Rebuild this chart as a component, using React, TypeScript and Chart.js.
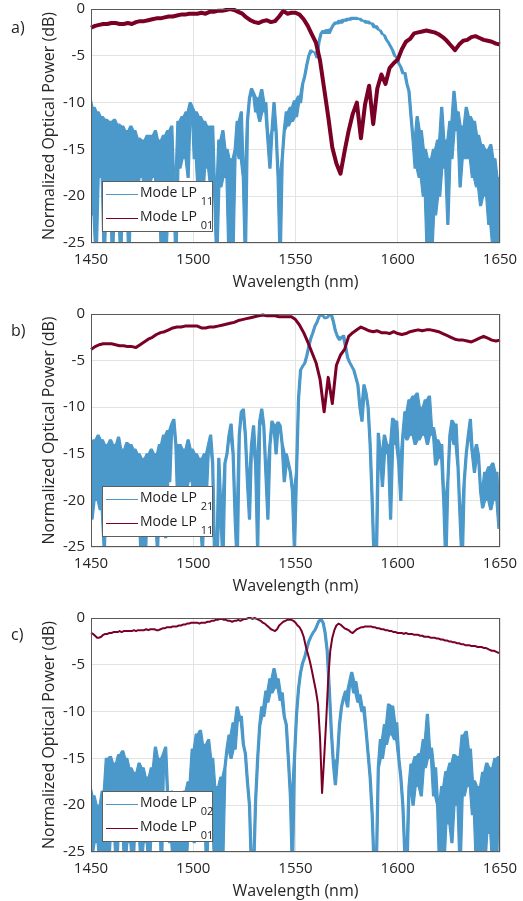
import React, { useEffect, useRef } from "react";
import { Chart, registerables } from "chart.js";

Chart.register(...registerables);

// ---------- data ----------
const WL_START = 1450;
const WL_MIN = 1450;
const WL_MAX = 1650;
const X_TICKS = [1450, 1500, 1550, 1600, 1650];
const Y_TICKS = [-25, -20, -15, -10, -5, 0];
const X_TITLE = "Wavelength (nm)";
const Y_TITLE = "Normalized Optical Power (dB)";
const PANEL_LABELS = ["a)", "b)", "c)"];
const BLUE_MODES = ["11", "21", "02"];
const RED_MODES = ["01", "11", "01"];

// Panel a) — Mode LP11 (1 nm steps from 1450 nm)
const blueA = [
  -9.5, -22, -10.5, -27, -11, -18, -11.5, -27, -11.8, -19,
  -12, -27, -11.8, -20, -12.3, -27, -12.5, -19, -13, -27,
  -12.5, -19, -13, -20, -13.8, -18, -14, -21, -13.5, -19,
  -13.5, -18, -13, -20, -14, -27, -13.5, -27, -13, -22,
  -12.5, -19, -27, -12, -17, -11.5, -16, -11, -18, -10,
  -10.5, -16, -11, -20, -11.5, -21, -12, -17, -12.5, -19,
  -12.5, -20, -27, -14, -19, -13, -18, -15, -27, -16,
  -25.5, -15, -12, -16, -11, -18, -27, -12, -9.5, -8.5,
  -9, -11, -9.5, -12, -8.6, -11, -10, -14, -17, -13,
  -10, -13, -18, -27, -16, -13, -11, -12.5, -10.5, -12,
  -9.8, -11.5, -9.3, -10, -8, -7.2, -6, -5, -4.4, -4.6,
  -4.6, -5.2, -3.5, -2.6, -2.3, -2.6, -2.2, -2.6, -2.1, -1.7,
  -1.4, -1.6, -1.2, -1.5, -1.1, -1.3, -1.0, -1.2, -0.9, -1.1,
  -0.9, -1.1, -1.0, -1.3, -1.2, -1.5, -1.3, -1.6, -1.5, -2.0,
  -1.8, -2.2, -2.3, -2.7, -2.8, -3.3, -3.6, -4.0, -4.4, -5.0,
  -5.2, -5.8, -6.2, -6.9, -6.8, -8.0, -8.8, -11.5, -14, -17,
  -11.5, -18, -13, -20, -15, -27, -16, -27, -15, -22,
  -14, -20, -10.5, -17, -14, -23, -12, -16, -8.8, -13,
  -11, -19, -12.5, -16, -10.5, -16, -11.5, -18, -12, -19,
  -13.5, -21, -14.5, -20, -15, -23, -14.5, -25.5, -16, -27,
  -18,
];
// Panel a) — Mode LP01 (2 nm steps from 1450 nm)
const redA = [
  -2.0, -1.8, -1.7, -1.6, -1.6, -1.5, -1.5, -1.6, -1.6, -1.5,
  -1.6, -1.4, -1.3, -1.3, -1.2, -1.1, -1.0, -1.0, -0.9, -0.8,
  -0.8, -0.7, -0.6, -0.6, -0.5, -0.5, -0.5, -0.4, -0.5, -0.3,
  -0.3, -0.2, -0.2, -0.1, 0.0, -0.1, -0.3, -0.5, -0.9, -1.2,
  -1.4, -1.5, -1.3, -1.2, -1.4, -1.3, -0.8, -0.2, -0.5, -0.4,
  -0.4, -0.6, -1.1, -1.8, -2.7, -3.6, -5.5, -8.5, -11.5, -14.8,
  -16.5, -17.6, -15.2, -13.0, -11.2, -10.0, -13.8, -10.2, -8.2, -12.3,
  -8.5, -7.0, -8.0, -6.3, -5.8, -5.4, -4.3, -3.5, -3.2, -2.6,
  -2.5, -2.4, -2.3, -2.4, -2.5, -2.7, -3.0, -3.4, -3.9, -4.4,
  -3.8, -3.4, -3.3, -3.0, -2.9, -3.1, -3.3, -3.4, -3.5, -3.7,
  -3.8,
];

// Panel b) — Mode LP21 (1 nm steps)
const blueB = [
  -14, -22, -13.5, -20, -13, -21, -13.5, -25.5, -14, -19,
  -13.5, -21, -14, -19, -13.2, -20, -14.5, -22, -13.8, -19,
  -14, -21, -14.5, -19, -15, -27, -15.5, -27, -15, -20,
  -14.5, -21, -15, -25.5, -14, -20, -13, -24, -12.5, -18,
  -11.8, -11.3, -14, -21, -14, -23, -14.5, -19, -13.5, -18,
  -14.5, -20, -15, -22, -15.5, -25.5, -15, -19, -14, -13,
  -16, -27, -27, -15.5, -21, -27, -16, -15, -13, -11.8,
  -15, -22, -27, -13, -10.5, -10.2, -13, -18, -22, -14,
  -12, -16, -25.5, -11.5, -10.2, -12, -17, -22, -14, -11.5,
  -12, -15, -11.6, -12, -14, -18, -15, -16, -17, -19,
  -25.5, -17, -9, -6, -5.6, -5.3, -4.5, -3.5, -2.6, -2,
  -1.3, -0.9, -0.3, 0, -0.2, -0.5, -0.4, -0.1, 0, -0.8,
  -1.8, -2.4, -2.8, -2.5, -2.3, -3.5, -4.7, -5.2, -5.6, -6,
  -6.8, -7.6, -10, -11.5, -7.6, -8.5, -10, -14, -20, -27,
  -27, -12.8, -15, -18.5, -13, -15, -14, -22, -11.2, -14,
  -11.5, -16, -20, -13, -10.5, -13.5, -9.2, -13, -8.8, -14,
  -8.5, -13.5, -10, -13, -9.2, -14, -8.8, -13, -12.2, -16.2,
  -13.5, -15.5, -14, -20, -27, -18, -13, -11.4, -14, -11.8,
  -16.5, -22, -27, -18, -15, -13, -11.3, -15, -17, -14,
  -15.2, -19, -20.8, -17, -20, -16.4, -21, -16, -20, -17,
  -23,
];
// Panel b) — Mode LP11 (2 nm steps)
const redB = [
  -3.8, -3.5, -3.3, -3.2, -3.2, -3.2, -3.3, -3.4, -3.4, -3.5,
  -3.5, -3.6, -3.3, -3.0, -2.7, -2.5, -2.2, -2.0, -1.9, -1.7,
  -1.5, -1.4, -1.4, -1.3, -1.3, -1.3, -1.3, -1.5, -1.5, -1.4,
  -1.4, -1.3, -1.2, -1.1, -1.0, -0.9, -0.7, -0.6, -0.5, -0.4,
  -0.3, -0.2, -0.1, -0.2, -0.2, -0.2, -0.3, -0.3, -0.3, -0.3,
  -0.6, -1.2, -2.0, -3.0, -4.1, -5.2, -7.0, -10.5, -6.8, -9.6,
  -5.5, -4.4, -3.8, -2.4, -2.0, -1.7, -1.4, -1.6, -1.8, -1.9,
  -1.8, -2.0, -2.0, -2.1, -1.9, -2.1, -2.2, -2.1, -1.9, -1.8,
  -1.7, -1.8, -1.7, -1.7, -1.8, -1.9, -2.1, -2.3, -2.5, -2.7,
  -2.8, -2.8, -2.9, -3.0, -2.8, -2.6, -2.4, -2.6, -2.8, -2.9,
  -2.8,
];

// Panel c) — Mode LP02 (1 nm steps)
const blueC = [
  -18, -25.5, -19, -24, -20, -27, -18.5, -25.5, -15, -27,
  -14.8, -23, -15.5, -27, -14.6, -22, -14.2, -27, -15, -24,
  -16, -27, -16.5, -22, -15.5, -27, -16, -24, -17, -27,
  -16, -22, -13.8, -20, -15, -27, -14.5, -13.8, -19, -24,
  -18.5, -27, -19, -27, -20, -25.5, -18.5, -27, -17.5, -22,
  -14, -24, -12.4, -22, -12, -19, -13.5, -27, -13, -21,
  -15, -27, -18, -27, -17, -25.5, -16, -14, -12.5, -15,
  -11.2, -14, -9.5, -11, -10.5, -13.5, -14.5, -17.5, -20, -27,
  -27, -19.5, -15, -11.5, -9.5, -10.5, -7.8, -9, -6.5, -8,
  -5.4, -7.5, -6.5, -8.8, -8, -10.5, -11.4, -15, -19, -27,
  -15, -10.3, -7.5, -5.8, -4.8, -4.2, -3.3, -2.5, -2, -1.6,
  -1.3, -0.8, -0.3, -0.1, -0.5, -1.6, -3.5, -7.5, -12, -15.5,
  -17.8, -15, -11.4, -9.5, -8.5, -7.8, -9.5, -6.8, -5.8, -8,
  -6.8, -9, -8.2, -10, -9.5, -12, -14.5, -17, -21, -27,
  -27, -16, -13, -15, -11.4, -13.5, -9.2, -12.5, -9.4, -13,
  -11.2, -15, -17, -20, -25.5, -27, -18, -15.6, -20, -14.8,
  -18, -14.5, -19, -13, -16, -10.3, -15, -13.9, -19, -16,
  -20, -27, -18, -27, -16.4, -22, -15.5, -24, -14.6, -20,
  -14.8, -27, -12.5, -19, -12.1, -18, -14, -21, -17.4, -27,
  -18, -25.5, -16.5, -27, -15.5, -23, -16, -27, -15, -25.5,
  -14.8,
];
// Panel c) — Mode LP01 (1 nm steps)
const redC = [
  -1.6, -1.7, -1.9, -2.1, -2.1, -2.0, -1.8, -1.7, -1.7, -1.6,
  -1.6, -1.5, -1.5, -1.5, -1.4, -1.5, -1.4, -1.4, -1.4, -1.4,
  -1.4, -1.3, -1.4, -1.3, -1.3, -1.3, -1.3, -1.2, -1.3, -1.2,
  -1.2, -1.2, -1.3, -1.3, -1.2, -1.1, -1.1, -1.0, -1.0, -1.0,
  -0.9, -0.9, -0.9, -0.8, -0.8, -0.7, -0.7, -0.6, -0.6, -0.5,
  -0.5, -0.5, -0.5, -0.6, -0.5, -0.5, -0.5, -0.4, -0.4, -0.3,
  -0.3, -0.2, -0.2, -0.1, -0.1, -0.2, -0.2, -0.3, -0.3, -0.4,
  -0.3, -0.3, -0.2, -0.3, -0.2, -0.1, -0.1, 0.0, 0.0, -0.1,
  0.0, -0.1, -0.2, -0.3, -0.5, -0.6, -0.8, -1.0, -1.2, -1.3,
  -1.4, -1.2, -0.8, -0.6, -0.4, -0.3, -0.2, -0.2, -0.2, -0.3,
  -0.5, -0.8, -1.0, -1.4, -2.0, -3.0, -3.8, -4.6, -5.6, -6.7,
  -7.8, -9.2, -12.8, -18.7, -15.0, -11.0, -6.5, -3.5, -2.1, -1.3,
  -0.8, -0.6, -0.7, -0.9, -1.1, -1.2, -1.3, -1.5, -1.6, -1.4,
  -1.2, -1.1, -1.0, -1.0, -0.9, -0.9, -0.9, -0.9, -1.0, -1.0,
  -1.1, -1.1, -1.2, -1.2, -1.3, -1.3, -1.4, -1.4, -1.5, -1.5,
  -1.6, -1.6, -1.6, -1.7, -1.6, -1.7, -1.7, -1.7, -1.8, -1.8,
  -1.8, -1.9, -1.9, -2.0, -2.0, -2.0, -2.1, -2.1, -2.1, -2.2,
  -2.2, -2.3, -2.3, -2.4, -2.4, -2.5, -2.5, -2.6, -2.6, -2.7,
  -2.7, -2.8, -2.8, -2.9, -2.9, -2.9, -3.0, -3.0, -3.0, -3.1,
  -3.1, -3.1, -3.2, -3.2, -3.3, -3.4, -3.5, -3.5, -3.6, -3.7,
  -3.7,
];

const BLUE_SERIES = [blueA, blueB, blueC];
const BLUE_STEPS = [1, 1, 1];
const RED_SERIES = [redA, redB, redC];
const RED_STEPS = [2, 2, 1];

// ---------- styling / layout ----------
const BLUE = "#4b98ca";
const RED = "#7b0026";
const FONT = "'Open Sans', 'Noto Sans', sans-serif";
const TEXT = "#262626";
const RED_WIDTHS = [4, 3, 2.0];

const GEOM = [
  { top: 0, height: 300, padTop: 9, padBottom: 8, legendTop: 181, labelY: 26.5 },
  { top: 300, height: 300, padTop: 14, padBottom: 4, legendTop: 486, labelY: 329.5 },
  { top: 600, height: 301, padTop: 18, padBottom: 0, legendTop: 791, labelY: 634 },
];

// The fast oscillation of the measured trace shows as a band: for each sample the
// band spans the segment to the next sample (upper/lower edges of that segment).
function segmentEdge(values: number[], upper: boolean) {
  return values.map((v, i) => {
    const n = i + 1 < values.length ? values[i + 1] : v;
    return upper ? Math.max(v, n) : Math.min(v, n);
  });
}

// Fills the area between dataset 0 (upper edge) and dataset 1 (lower edge),
// using the points Chart.js laid out on its own scales.
const bandPlugin = {
  id: "bandFill",
  beforeDatasetsDraw(chart: any) {
    const up = chart.getDatasetMeta(0).data;
    const lo = chart.getDatasetMeta(1).data;
    if (!up.length || !lo.length) return;
    const { ctx, chartArea: a } = chart;
    ctx.save();
    ctx.beginPath();
    ctx.rect(a.left, a.top, a.right - a.left, a.bottom - a.top);
    ctx.clip();
    ctx.beginPath();
    ctx.moveTo(up[0].x, up[0].y);
    for (let i = 1; i < up.length; i++) ctx.lineTo(up[i].x, up[i].y);
    for (let i = lo.length - 1; i >= 0; i--) ctx.lineTo(lo[i].x, lo[i].y);
    ctx.closePath();
    ctx.fillStyle = BLUE;
    ctx.fill();
    ctx.restore();
  },
};

const boxPlugin = {
  id: "axesBox",
  afterDraw(chart: any) {
    const { ctx, chartArea: a } = chart;
    ctx.save();
    ctx.strokeStyle = "#595959";
    ctx.lineWidth = 1;
    ctx.strokeRect(
      Math.round(a.left) + 0.5,
      Math.round(a.top) + 0.5,
      Math.round(a.right - a.left) - 1,
      Math.round(a.bottom - a.top) - 1
    );
    ctx.restore();
  },
};

function Panel({ idx }: { idx: number }) {
  const ref = useRef<HTMLCanvasElement | null>(null);
  const g = GEOM[idx];
  useEffect(() => {
    const blue = BLUE_SERIES[idx];
    const red = RED_SERIES[idx];
    const step = BLUE_STEPS[idx];
    const hi = segmentEdge(blue, true);
    const lo = segmentEdge(blue, false);
    const chart = new Chart(ref.current as HTMLCanvasElement, {
      type: "line",
      data: {
        datasets: [
          {
            label: "Mode LP" + BLUE_MODES[idx],
            data: hi.map((y, i) => ({ x: WL_START + i * step, y })),
            borderColor: BLUE,
            borderWidth: 1.2,
            borderJoinStyle: "round",
            pointRadius: 0,
            tension: 0,
            fill: false,
            order: 2,
            clip: 0,
          },
          {
            label: "Mode LP" + BLUE_MODES[idx] + " (lower edge)",
            data: lo.map((y, i) => ({ x: WL_START + i * step, y })),
            borderColor: BLUE,
            borderWidth: 1.2,
            borderJoinStyle: "round",
            pointRadius: 0,
            tension: 0,
            fill: false,
            order: 2,
            clip: 0,
          },
          {
            label: "Mode LP" + RED_MODES[idx],
            data: red.map((y, i) => ({ x: WL_START + i * RED_STEPS[idx], y })),
            borderColor: RED,
            borderWidth: RED_WIDTHS[idx],
            borderJoinStyle: "round",
            pointRadius: 0,
            tension: 0,
            fill: false,
            order: 1,
            clip: 1,
          },
        ],
      } as any,
      options: {
        responsive: false,
        maintainAspectRatio: false,
        animation: false,
        events: [],
        layout: { padding: { left: 40, right: 23, top: g.padTop, bottom: g.padBottom } },
        plugins: {
          legend: { display: false },
          tooltip: { enabled: false },
        },
        scales: {
          x: {
            type: "linear",
            min: WL_MIN,
            max: WL_MAX,
            afterBuildTicks: (s: any) => {
              s.ticks = X_TICKS.map((v) => ({ value: v }));
            },
            afterFit: (s: any) => {
              s.height = 49;
              s.paddingLeft = 0;
              s.paddingRight = 0;
            },
            ticks: {
              callback: (v: any) => String(v),
              color: TEXT,
              font: { family: FONT, size: 15 },
              padding: 8,
              maxRotation: 0,
              autoSkip: false,
            },
            grid: { color: "#e3e3e3", lineWidth: 1, drawTicks: false },
            border: { display: false },
            title: {
              display: true,
              text: X_TITLE,
              color: TEXT,
              font: { family: FONT, size: 16 },
              padding: 0,
            },
          },
          y: {
            type: "linear",
            min: -25,
            max: 0,
            afterBuildTicks: (s: any) => {
              s.ticks = Y_TICKS.map((v) => ({ value: v }));
            },
            afterFit: (s: any) => {
              s.width = 51;
              s.paddingTop = 0;
              s.paddingBottom = 0;
            },
            ticks: {
              callback: (v: any) => String(v),
              color: TEXT,
              font: { family: FONT, size: 15 },
              padding: 6,
              autoSkip: false,
            },
            grid: { color: "#e3e3e3", lineWidth: 1, drawTicks: false },
            border: { display: false },
            title: {
              display: true,
              text: Y_TITLE,
              color: TEXT,
              font: { family: FONT, size: 16 },
              padding: 0,
            },
          },
        },
      } as any,
      plugins: [bandPlugin, boxPlugin],
    });
    return () => chart.destroy();
  }, [idx]);
  return (
    <canvas
      ref={ref}
      width={523}
      height={g.height}
      style={{ position: "absolute", left: 0, top: g.top, width: 523, height: g.height }}
    />
  );
}

function LegendRow({ color, mode, y }: { color: string; mode: string; y: number }) {
  return (
    <>
      <div
        style={{
          position: "absolute",
          left: 3,
          top: y - 0.5,
          width: 32,
          height: 0,
          borderTop: `1.3px solid ${color}`,
        }}
      />
      <div
        style={{
          position: "absolute",
          left: 37,
          top: y - 11,
          height: 18,
          lineHeight: "18px",
          whiteSpace: "nowrap",
          fontSize: 14,
          color: "#1e1e1e",
        }}
      >
        Mode LP
        <span style={{ fontSize: 11, position: "relative", top: 8, marginLeft: 4 }}>{mode}</span>
      </div>
    </>
  );
}

function Legend({ idx }: { idx: number }) {
  const g = GEOM[idx];
  return (
    <div
      style={{
        position: "absolute",
        left: 102,
        top: g.legendTop,
        width: 111,
        height: 51,
        boxSizing: "border-box",
        border: "1px solid #5e5e5e",
        background: "#fff",
        fontFamily: FONT,
      }}
    >
      <LegendRow color={BLUE} mode={BLUE_MODES[idx]} y={12} />
      <LegendRow color={RED} mode={RED_MODES[idx]} y={36} />
    </div>
  );
}

export default function App() {
  return (
    <div
      style={{
        position: "absolute",
        left: 0,
        top: 0,
        width: 523,
        height: 901,
        background: "#fff",
        overflow: "hidden",
      }}
    >
      {[0, 1, 2].map((i) => (
        <Panel key={"p" + i} idx={i} />
      ))}
      {[0, 1, 2].map((i) => (
        <Legend key={"l" + i} idx={i} />
      ))}
      {[0, 1, 2].map((i) => (
        <div
          key={"t" + i}
          style={{
            position: "absolute",
            left: 11,
            top: GEOM[i].labelY - 11,
            height: 22,
            lineHeight: "22px",
            fontFamily: FONT,
            fontSize: 16,
            color: "#1e1e1e",
          }}
        >
          {PANEL_LABELS[i]}
        </div>
      ))}
    </div>
  );
}
